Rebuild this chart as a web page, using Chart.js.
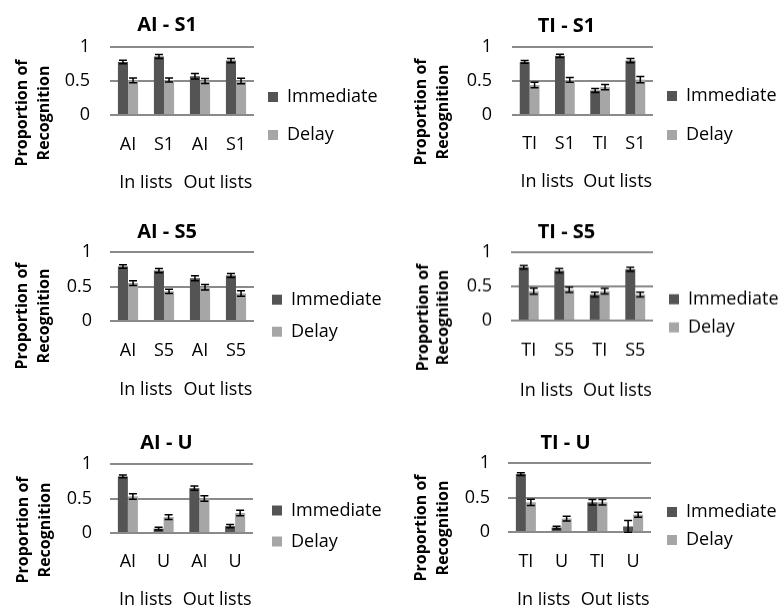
<!DOCTYPE html>
<html>
<head>
<meta charset="utf-8">
<script src="https://cdn.jsdelivr.net/npm/chart.js@4.4.1/dist/chart.umd.min.js"></script>
<style>
  html, body { margin: 0; padding: 0; background: #fff; width: 783px; height: 610px; overflow: hidden; }
  .panel { position: absolute; }
</style>
</head>
<body>
<div id="p0" class="panel"><canvas></canvas></div>
<div id="p1" class="panel"><canvas></canvas></div>
<div id="p2" class="panel"><canvas></canvas></div>
<div id="p3" class="panel"><canvas></canvas></div>
<div id="p4" class="panel"><canvas></canvas></div>
<div id="p5" class="panel"><canvas></canvas></div>
<script>
// ─── Data ─────────────────────────────────────────────────────────
const seriesNames = ['Immediate', 'Delay'];
const groupLabels = ['In lists', 'Out lists'];
const yAxisLines  = ['Proportion of', 'Recognition'];

const catsAIS1   = ['AI', 'S1', 'AI', 'S1'];
const immAIS1    = [0.78, 0.86, 0.57, 0.80];
const immErrAIS1 = [0.025, 0.03, 0.04, 0.03];
const delAIS1    = [0.51, 0.515, 0.50, 0.50];
const delErrAIS1 = [0.035, 0.03, 0.035, 0.04];

const catsTIS1   = ['TI', 'S1', 'TI', 'S1'];
const immTIS1    = [0.78, 0.87, 0.36, 0.80];
const immErrTIS1 = [0.02, 0.025, 0.03, 0.03];
const delTIS1    = [0.44, 0.515, 0.41, 0.52];
const delErrTIS1 = [0.04, 0.035, 0.04, 0.045];

const catsAIS5   = ['AI', 'S5', 'AI', 'S5'];
const immAIS5    = [0.79, 0.73, 0.62, 0.66];
const immErrAIS5 = [0.025, 0.03, 0.035, 0.03];
const delAIS5    = [0.55, 0.43, 0.49, 0.40];
const delErrAIS5 = [0.035, 0.03, 0.04, 0.04];

const catsTIS5   = ['TI', 'S5', 'TI', 'S5'];
const immTIS5    = [0.78, 0.73, 0.38, 0.75];
const immErrTIS5 = [0.025, 0.03, 0.035, 0.03];
const delTIS5    = [0.43, 0.45, 0.43, 0.38];
const delErrTIS5 = [0.045, 0.04, 0.04, 0.035];

const catsAIU    = ['AI', 'U', 'AI', 'U'];
const immAIU     = [0.82, 0.063, 0.65, 0.10];
const immErrAIU  = [0.02, 0.02, 0.03, 0.025];
const delAIU     = [0.53, 0.23, 0.50, 0.29];
const delErrAIU  = [0.04, 0.035, 0.04, 0.04];

const catsTIU    = ['TI', 'U', 'TI', 'U'];
const immTIU     = [0.84, 0.065, 0.43, 0.08];
const immErrTIU  = [0.02, 0.02, 0.04, 0.085];
const delTIU     = [0.43, 0.195, 0.43, 0.25];
const delErrTIU  = [0.045, 0.035, 0.04, 0.035];

// ─── Layout (page pixels) ─────────────────────────────────────────
const PANELS = [
  { id: 'p0', title: 'AI - S1', cats: catsAIS1, imm: immAIS1, immErr: immErrAIS1, del: delAIS1, delErr: delErrAIS1,
    left: 0,   width: 400, top: 0,   legendMid: 116,   legendGap: 38, legendX: 268, titleY: 25,
    areaTop: 47,  areaBottom: 115, areaLeft: 110, areaRight: 254, catY: 145, groupY: 183,
    yTitleX: [22, 44],   yTitleY: 113, tickPad: 20 },
  { id: 'p1', title: 'TI - S1', cats: catsTIS1, imm: immTIS1, immErr: immErrTIS1, del: delTIS1, delErr: delErrTIS1,
    left: 400, width: 383, top: 0,   legendMid: 115.5, legendGap: 39, legendX: 667, titleY: 26,
    areaTop: 47,  areaBottom: 115, areaLeft: 512, areaRight: 653, catY: 144, groupY: 182,
    yTitleX: [421, 443], yTitleY: 112, tickPad: 20 },
  { id: 'p2', title: 'AI - S5', cats: catsAIS5, imm: immAIS5, immErr: immErrAIS5, del: delAIS5, delErr: delErrAIS5,
    left: 0,   width: 400, top: 205, legendMid: 315.7, legendGap: 32, legendX: 272, titleY: 232,
    areaTop: 252, areaBottom: 321, areaLeft: 110, areaRight: 254, catY: 351, groupY: 390,
    yTitleX: [22, 44],   yTitleY: 316, tickPad: 18 },
  { id: 'p3', title: 'TI - S5', cats: catsTIS5, imm: immTIS5, immErr: immErrTIS5, del: delTIS5, delErr: delErrTIS5,
    left: 400, width: 383, top: 205, legendMid: 312.8, legendGap: 28, legendX: 669, titleY: 232,
    areaTop: 252, areaBottom: 320, areaLeft: 511, areaRight: 653, catY: 350, groupY: 390,
    yTitleX: [423, 443], yTitleY: 317, tickPad: 19 },
  { id: 'p4', title: 'AI - U', cats: catsAIU, imm: immAIU, immErr: immErrAIU, del: delAIU, delErr: delErrAIU,
    left: 0,   width: 400, top: 410, legendMid: 526,   legendGap: 31, legendX: 272, titleY: 443,
    areaTop: 464, areaBottom: 533, areaLeft: 110, areaRight: 253, catY: 562, groupY: 600,
    yTitleX: [23, 45],   yTitleY: 530, tickPad: 18 },
  { id: 'p5', title: 'TI - U', cats: catsTIU, imm: immTIU, immErr: immErrTIU, del: delTIU, delErr: delErrTIU,
    left: 400, width: 383, top: 410, legendMid: 526,   legendGap: 28, legendX: 667, titleY: 443,
    areaTop: 463, areaBottom: 532, areaLeft: 508, areaRight: 651, catY: 562, groupY: 600,
    yTitleX: [421, 443], yTitleY: 528, tickPad: 18 },
];

const COLORS   = ['#545454', '#a6a6a6'];
const GRID     = '#8a8a8a';
const FS       = 18;   // tick / legend text
const TFS      = 20;   // panel titles
const LH       = 1.2;
const LEGEND_W = 80;

Chart.defaults.font.family = '"Open Sans", "Noto Sans", sans-serif';
Chart.defaults.color = '#000';

// error bars drawn through the y scale
const errorBars = {
  id: 'errorBars',
  afterDatasetsDraw(chart) {
    const ctx = chart.ctx;
    const ys = chart.scales.y;
    ctx.save();
    ctx.strokeStyle = '#000';
    ctx.lineWidth = 1.5;
    chart.data.datasets.forEach((ds, i) => {
      chart.getDatasetMeta(i).data.forEach((bar, j) => {
        const v = ds.data[j], e = ds.errors[j];
        const y1 = ys.getPixelForValue(v + e);
        const y2 = ys.getPixelForValue(v - e);
        const x = bar.x, c = 4;
        ctx.beginPath();
        ctx.moveTo(x, y1); ctx.lineTo(x, y2);
        ctx.moveTo(x - c, y1); ctx.lineTo(x + c, y1);
        ctx.moveTo(x - c, y2); ctx.lineTo(x + c, y2);
        ctx.stroke();
      });
    });
    ctx.restore();
  }
};

// two-line rotated axis title
const yTitle = {
  id: 'yTitle',
  afterDraw(chart, args, opts) {
    const ctx = chart.ctx;
    ctx.save();
    ctx.fillStyle = '#000';
    ctx.font = 'bold 16px "Open Sans", "Noto Sans", sans-serif';
    ctx.textAlign = 'center';
    ctx.textBaseline = 'middle';
    opts.lines.forEach((t, k) => {
      ctx.save();
      ctx.translate(opts.xs[k], opts.y);
      ctx.rotate(-Math.PI / 2);
      ctx.fillText(t, 0, 0);
      ctx.restore();
    });
    ctx.restore();
  }
};

// the legend box is capped narrow for layout; move it and widen it so its text is not clipped
const wideLegend = {
  id: 'wideLegend',
  afterLayout(chart, args, opts) {
    const lg = chart.legend;
    if (!lg) return;
    lg.left = opts.x - lg.options.labels.padding;
    lg.width = chart.width - lg.left;
    lg.right = chart.width;
  }
};

function buildPanel(p) {
  const H   = 2 * (p.legendMid - p.top);
  const xH  = 2 * (p.catY - p.areaBottom);
  const x2H = p.top + H - p.areaBottom - xH;
  const half = FS * LH / 2;

  const div = document.getElementById(p.id);
  div.style.left   = p.left + 'px';
  div.style.top    = p.top + 'px';
  div.style.width  = p.width + 'px';
  div.style.height = H + 'px';

  new Chart(div.querySelector('canvas'), {
    type: 'bar',
    data: {
      labels: p.cats,
      datasets: [
        { label: seriesNames[0], data: p.imm, errors: p.immErr, backgroundColor: COLORS[0] },
        { label: seriesNames[1], data: p.del, errors: p.delErr, backgroundColor: COLORS[1] },
      ],
    },
    options: {
      responsive: true,
      maintainAspectRatio: false,
      animation: false,
      datasets: { bar: { categoryPercentage: 0.56, barPercentage: 1, borderWidth: 0 } },
      layout: { padding: { left: 0, top: 0, bottom: 0, right: p.width - (p.areaRight - p.left) - LEGEND_W } },
      plugins: {
        title: {
          display: true,
          text: p.title,
          color: '#000',
          font: { size: TFS, weight: 'bold' },
          padding: { top: p.titleY - p.top - TFS * LH / 2, bottom: p.areaTop - p.titleY - TFS * LH / 2 },
        },
        legend: {
          position: 'right',
          maxWidth: LEGEND_W,
          labels: { boxWidth: 10, boxHeight: 10, padding: p.legendGap - FS, font: { size: FS }, color: '#000' },
        },
        tooltip: { enabled: false },
        yTitle: { lines: yAxisLines, xs: p.yTitleX.map(x => x - p.left), y: p.yTitleY - p.top },
        wideLegend: { x: p.legendX - p.left },
      },
      scales: {
        y: {
          min: 0, max: 1,
          ticks: { stepSize: 0.5, padding: p.tickPad, font: { size: FS }, callback: v => String(v) },
          grid: { color: GRID, lineWidth: 2, drawTicks: false },
          border: { display: false },
          afterFit: s => { s.width = p.areaLeft - p.left; },
        },
        x: {
          ticks: { padding: p.catY - p.areaBottom - half, font: { size: FS }, maxRotation: 0, autoSkip: false },
          grid: { display: false, drawTicks: false },
          border: { display: false },
          afterFit: s => { s.height = xH; },
        },
        x2: {
          type: 'category',
          labels: groupLabels,
          position: 'bottom',
          offset: true,
          ticks: { padding: p.groupY - p.areaBottom - xH - half, font: { size: FS }, maxRotation: 0, minRotation: 0, autoSkip: false },
          grid: { display: false, drawTicks: false },
          border: { display: false },
          afterFit: s => { s.height = x2H; },
        },
      },
    },
    plugins: [errorBars, yTitle, wideLegend],
  });
}

PANELS.forEach(buildPanel);
</script>
</body>
</html>
